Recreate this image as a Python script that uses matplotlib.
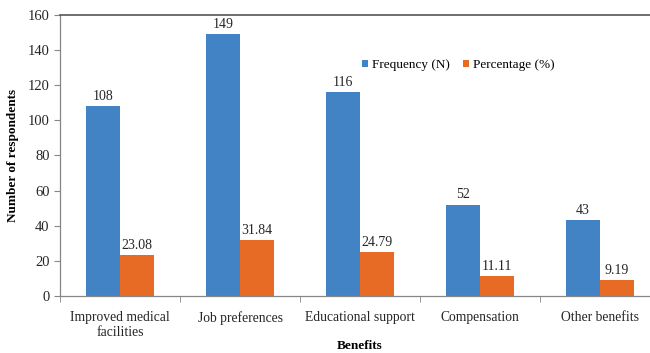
import numpy as np
import matplotlib
matplotlib.use('Agg')
import matplotlib.pyplot as plt
from matplotlib.ticker import FixedLocator

plt.rcParams['font.family'] = ['Liberation Serif', 'DejaVu Serif']

categories = ['Improved medical\nfacilities', 'Job preferences', 'Educational support',
              'Compensation', 'Other benefits']
frequency = [108, 149, 116, 52, 43]
percentage = [23.08, 31.84, 24.79, 11.11, 9.19]
freq_labels = ['108', '149', '116', '52', '43']
pct_labels = ['23.08', '31.84', '24.79', '11.11', '9.19']

blue = '#4283C6'
orange = '#E76A25'
spine_col = '#868686'
txt = '#262626'

fig = plt.figure(figsize=(6.5, 3.53), dpi=100)
ax = fig.add_axes([60 / 650, 1 - 296 / 353, 600 / 650, (296 - 14.7) / 353])

x = np.arange(len(categories))
w = 0.283
b1 = ax.bar(x - w / 2, frequency, w, color=blue, label='Frequency (N)')
b2 = ax.bar(x + w / 2, percentage, w, color=orange, label='Percentage (%)')

for rect, lab in zip(b1, freq_labels):
    ax.text(rect.get_x() + rect.get_width() / 2, rect.get_height() + 1.8, lab,
            ha='center', va='bottom', fontsize=10, color=txt)
for rect, lab in zip(b2, pct_labels):
    ax.text(rect.get_x() + rect.get_width() / 2, rect.get_height() + 1.8, lab,
            ha='center', va='bottom', fontsize=10, color=txt)

ax.set_xlim(-0.5, len(categories) - 0.5)
ax.set_ylim(0, 160)
ax.set_yticks(range(0, 161, 20))
ax.set_xticks(x)
ax.set_xticklabels(categories, fontsize=9.8, color=txt)
ax.xaxis.set_minor_locator(FixedLocator(np.arange(-0.5, len(categories), 1)))
ax.tick_params(axis='x', which='major', length=0, pad=11)
ax.tick_params(axis='x', which='minor', length=4, color=spine_col)
ax.tick_params(axis='y', length=4, color=spine_col, labelsize=10.5, labelcolor=txt)

for s in ax.spines.values():
    s.set_color(spine_col)
    s.set_linewidth(0.9)
ax.spines['top'].set_color('#555555')
ax.spines['top'].set_linewidth(1.2)

ax.set_ylabel('Number of respondents', fontsize=9.5, fontweight='bold', labelpad=6)
fig.text((60 + 300) / 650, 1 - 346 / 353, 'Benefits', ha='center', va='center',
         fontsize=9.5, fontweight='bold')

ax.legend(loc='center left', bbox_to_anchor=(357 / 650, 1 - 65 / 353), bbox_transform=fig.transFigure,
          ncol=2, frameon=False, fontsize=9.5, handlelength=0.45, handleheight=0.45,
          handletextpad=0.3, columnspacing=1.0, borderaxespad=0)

fig.savefig('out.png', dpi=100)
